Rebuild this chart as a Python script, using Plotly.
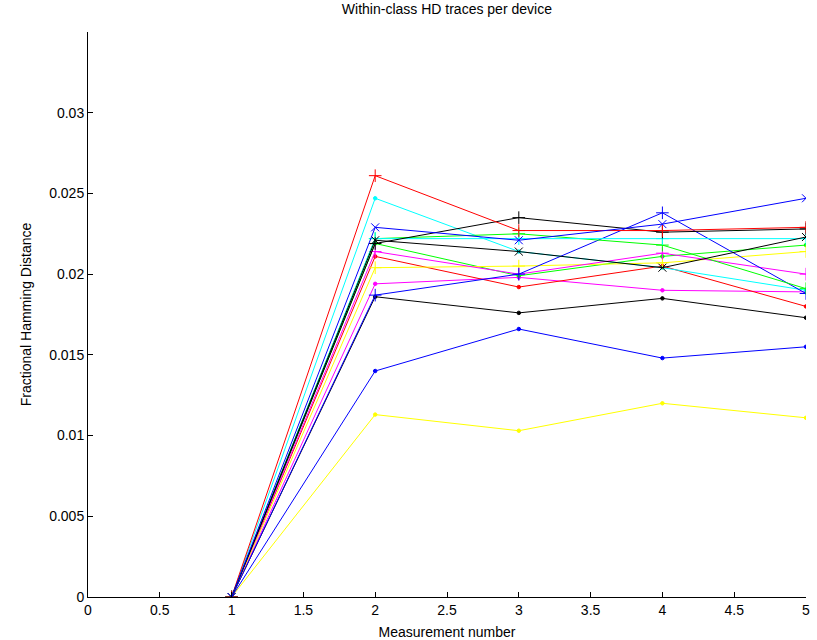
import plotly.graph_objects as go

# Measurement index for each trace
measurements = [1, 2, 3, 4, 5]

# Within-class fractional Hamming distance per device (colour, marker, values)
red_plus = [0, 0.0261, 0.0227, 0.0227, 0.0229]
red_dot = [0, 0.0211, 0.0192, 0.0205, 0.0180]
green_plus = [0, 0.0222, 0.0225, 0.0218, 0.0191]
green_dot = [0, 0.0219, 0.0199, 0.0211, 0.0218]
blue_plus = [0, 0.0187, 0.0200, 0.0238, 0.0188]
blue_dot = [0, 0.0140, 0.0166, 0.0148, 0.0155]
blue_x = [0, 0.0229, 0.0221, 0.0231, 0.0247]
cyan_plus = [0, 0.0222, 0.0222, 0.0222, 0.0222]
cyan_dot = [0, 0.0247, 0.0214, 0.0204, 0.0190]
magenta_plus = [0, 0.0214, 0.0200, 0.0213, 0.0200]
magenta_dot = [0, 0.0194, 0.0198, 0.0190, 0.0189]
yellow_plus = [0, 0.0204, 0.0205, 0.0207, 0.0214]
yellow_dot = [0, 0.0113, 0.0103, 0.0120, 0.0111]
black_plus = [0, 0.0219, 0.0235, 0.0226, 0.0228]
black_dot = [0, 0.0186, 0.0176, 0.0185, 0.0173]
black_x = [0, 0.0221, 0.0214, 0.0204, 0.0223]

x_tick_vals = [0, 0.5, 1, 1.5, 2, 2.5, 3, 3.5, 4, 4.5, 5]
x_tick_text = ["0", "0.5", "1", "1.5", "2", "2.5", "3", "3.5", "4", "4.5", "5"]
y_tick_vals = [0, 0.005, 0.01, 0.015, 0.02, 0.025, 0.03]
y_tick_text = ["0", "0.005", "0.01", "0.015", "0.02", "0.025", "0.03"]

RED, GREEN, BLUE = "#FF0000", "#00FF00", "#0000FF"
CYAN, MAGENTA, YELLOW, BLACK = "#00FFFF", "#FF00FF", "#FFFF00", "#000000"

traces = [
    (yellow_dot, YELLOW, "dot"),
    (blue_dot, BLUE, "dot"),
    (black_dot, BLACK, "dot"),
    (magenta_dot, MAGENTA, "dot"),
    (red_dot, RED, "dot"),
    (green_dot, GREEN, "dot"),
    (cyan_dot, CYAN, "dot"),
    (yellow_plus, YELLOW, "plus"),
    (magenta_plus, MAGENTA, "plus"),
    (blue_plus, BLUE, "plus"),
    (green_plus, GREEN, "plus"),
    (cyan_plus, CYAN, "plus"),
    (black_plus, BLACK, "plus"),
    (red_plus, RED, "plus"),
    (black_x, BLACK, "x"),
    (blue_x, BLUE, "x"),
]

marker_style = {
    "dot": dict(symbol="circle", size=3.5),
    "plus": dict(symbol="cross-thin-open", size=9),
    "x": dict(symbol="x-thin-open", size=8),
}

fig = go.Figure()
for values, color, kind in traces:
    m = marker_style[kind]
    fig.add_trace(go.Scatter(
        x=measurements, y=values, mode="lines+markers",
        line=dict(color=color, width=1),
        marker=dict(symbol=m["symbol"], size=m["size"], color=color,
                    line=dict(color=color, width=1)),
        showlegend=False, hoverinfo="skip",
    ))

font_family = "Liberation Sans, Arial, sans-serif"
fig.update_layout(
    width=817, height=640,
    margin=dict(l=88, r=11, t=32, b=43),
    paper_bgcolor="white", plot_bgcolor="white",
    font=dict(family=font_family, size=14, color="black"),
    title=dict(text="Within-class HD traces per device", x=0.547, xanchor="center",
               y=0.993, yanchor="top", font=dict(size=14, color="black")),
)
fig.update_xaxes(
    range=[0, 5], tickvals=x_tick_vals, ticktext=x_tick_text,
    showline=True, linecolor="black", linewidth=1, mirror=False,
    ticks="inside", ticklen=5, tickcolor="black", showgrid=False, zeroline=False,
    title=dict(text="Measurement number", standoff=13, font=dict(size=14)),
    tickfont=dict(size=14), automargin=False,
)
fig.update_yaxes(
    range=[0, 0.035], tickvals=y_tick_vals, ticktext=y_tick_text,
    showline=True, linecolor="black", linewidth=1, mirror=False,
    ticks="inside", ticklen=5, tickcolor="black", showgrid=False, zeroline=False,
    title=dict(text="Fractional Hamming Distance", standoff=14, font=dict(size=14)),
    tickfont=dict(size=14), automargin=False,
)

fig.write_html("out.html")
